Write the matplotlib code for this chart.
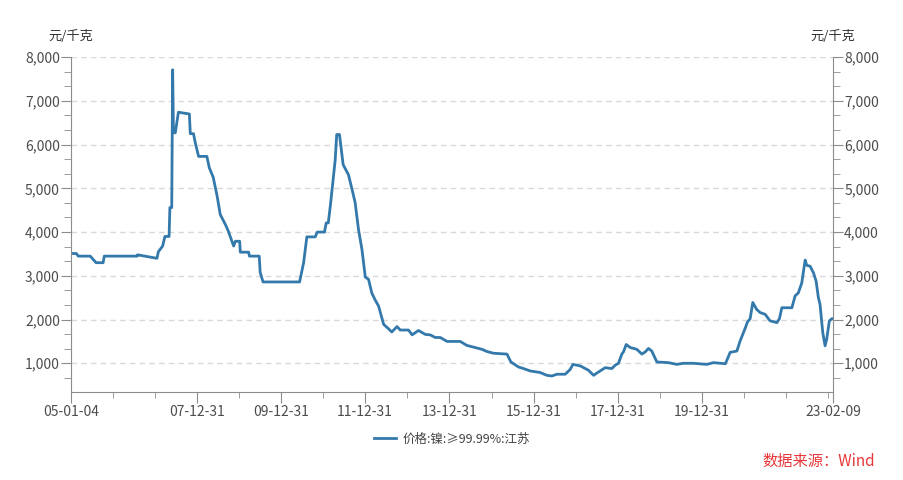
import pandas as pd
import matplotlib
matplotlib.use("Agg")
import matplotlib.pyplot as plt

plt.rcParams['font.family'] = ['Noto Sans CJK SC', 'DejaVu Sans']

# 价格:镍:≥99.99%:江苏, 元/千克
dates = [
    "2005-01-04", "2005-02-20", "2005-03-08", "2005-06-20", "2005-08-10", "2005-10-10",
    "2005-10-20", "2006-08-01", "2006-08-05", "2007-01-20", "2007-02-01", "2007-03-10",
    "2007-03-30", "2007-05-05", "2007-05-12", "2007-05-28", "2007-06-05", "2007-06-12",
    "2007-06-28", "2007-07-25", "2007-10-28", "2007-11-05", "2007-12-03", "2007-12-18",
    "2008-01-16", "2008-03-28", "2008-04-18", "2008-05-22", "2008-06-25", "2008-07-22",
    "2008-09-05", "2008-09-30", "2008-11-15", "2008-11-30", "2009-01-06", "2009-01-12",
    "2009-03-25", "2009-04-01", "2009-06-25", "2009-07-03", "2009-07-28", "2010-06-10",
    "2010-07-15", "2010-08-12", "2010-10-24", "2010-11-10", "2011-01-12", "2011-01-27",
    "2011-02-14", "2011-03-05", "2011-04-15", "2011-04-28", "2011-05-22", "2011-06-23",
    "2011-08-08", "2011-09-15", "2011-10-05", "2011-11-03", "2011-12-03", "2012-01-01",
    "2012-01-29", "2012-02-26", "2012-03-26", "2012-04-25", "2012-06-08", "2012-07-20",
    "2012-08-18", "2012-10-02", "2012-10-30", "2013-01-10", "2013-02-10", "2013-04-06",
    "2013-06-05", "2013-07-17", "2013-08-30", "2013-10-12", "2013-12-10", "2014-04-03",
    "2014-05-30", "2014-08-10", "2014-10-08", "2014-11-20", "2015-01-17", "2015-05-14",
    "2015-06-17", "2015-08-22", "2015-10-04", "2015-12-01", "2016-02-25", "2016-04-23",
    "2016-06-07", "2016-07-20", "2016-09-30", "2016-11-12", "2016-12-06", "2017-02-08",
    "2017-04-20", "2017-06-03", "2017-07-15", "2017-09-12", "2017-11-08", "2017-12-07",
    "2018-01-05", "2018-02-03", "2018-02-17", "2018-03-13", "2018-04-17", "2018-06-13",
    "2018-07-27", "2018-08-25", "2018-09-22", "2018-10-21", "2018-12-04", "2019-03-14",
    "2019-05-26", "2019-07-22", "2019-10-17", "2020-02-11", "2020-04-08", "2020-07-20",
    "2020-08-31", "2020-10-28", "2020-11-25", "2020-12-24", "2021-01-08", "2021-01-27",
    "2021-02-20", "2021-03-15", "2021-04-18", "2021-05-18", "2021-06-30", "2021-08-12",
    "2021-10-10", "2021-11-01", "2021-11-22", "2022-02-17", "2022-03-17", "2022-04-14",
    "2022-05-14", "2022-06-12", "2022-06-26", "2022-07-25", "2022-08-23", "2022-09-15",
    "2022-10-05", "2022-10-19", "2022-11-12", "2022-12-02", "2022-12-16", "2023-01-08",
    "2023-01-30", "2023-02-09",
]
prices = [
    3510, 3510, 3450, 3450, 3300, 3300,
    3450, 3450, 3480, 3400, 3550, 3680,
    3900, 3900, 4560, 4560, 7710, 6270,
    6270, 6740, 6700, 6250, 6250, 6045,
    5730, 5730, 5470, 5250, 4820, 4400,
    4170, 4020, 3680, 3790, 3790, 3540,
    3540, 3450, 3450, 3080, 2860, 2860,
    3300, 3890, 3890, 4000, 4000, 4210,
    4210, 4630, 5650, 6230, 6230, 5540,
    5310, 4900, 4670, 4060, 3600, 2970,
    2920, 2610, 2450, 2310, 1890, 1790,
    1715, 1840, 1760, 1760, 1650, 1750,
    1660, 1650, 1590, 1590, 1500, 1500,
    1410, 1360, 1320, 1270, 1230, 1210,
    1030, 915, 880, 825, 790, 725,
    710, 750, 750, 860, 975, 940,
    840, 725, 800, 900, 880, 955,
    1000, 1210, 1260, 1430, 1360, 1320,
    1210, 1260, 1340, 1280, 1030, 1015,
    975, 1000, 1000, 975, 1015, 990,
    1250, 1280, 1510, 1700, 1800, 1940,
    2020, 2390, 2230, 2160, 2120, 1970,
    1930, 2020, 2270, 2270, 2540, 2610,
    2840, 3360, 3240, 3220, 3070, 2880,
    2500, 2350, 1700, 1400, 1550, 1970,
    2020, 2020,
]

tick_dates = ["2005-01-04"] + [f"{y}-12-31" for y in range(2005, 2023)] + ["2023-02-09"]
label_dates = ["2005-01-04", "2007-12-31", "2009-12-31", "2011-12-31", "2013-12-31",
               "2015-12-31", "2017-12-31", "2019-12-31", "2023-02-09"]
y_major = [1000, 2000, 3000, 4000, 5000, 6000, 7000, 8000]

series_name = "价格:镍:≥99.99%:江苏"
unit = "元/千克"
source = "数据来源：Wind"

df = pd.DataFrame({"date": pd.to_datetime(dates), "price": prices})

fig = plt.figure(figsize=(9.04, 4.8), dpi=100)
ax = fig.add_axes([0.0785, 0.183, 0.843, 0.698])

ax.plot(df["date"], df["price"], color="#3479ab", lw=2, label=series_name)

ax.set_xlim(pd.Timestamp("2005-01-04"), pd.Timestamp("2023-02-09"))
ax.set_ylim(340, 8000)

# y ticks: major every 1000, minor at thirds
ax.set_yticks(y_major)
minor_y = [v - k * 1000 / 3 for v in y_major for k in (1, 2)]
ax.set_yticks([m for m in minor_y if m > 340], minor=True)
ax.set_yticklabels([f"{v:,}" for v in y_major])

# x ticks at each year end, labelled every second year
tick_ts = pd.to_datetime(tick_dates)
major_x = [t for t in tick_ts if t.strftime("%Y-%m-%d") in label_dates]
minor_x = [t for t in tick_ts if t.strftime("%Y-%m-%d") not in label_dates]
ax.set_xticks(major_x)
ax.set_xticks(minor_x, minor=True)
ax.set_xticklabels([t.strftime("%y-%m-%d") for t in major_x])

for s in ["left", "bottom", "right"]:
    ax.spines[s].set_color("#8c8c8c")
ax.spines["top"].set_visible(False)

ax.tick_params(axis="y", which="major", length=7, color="#8c8c8c", labelsize=10,
               labelcolor="#4d4d4d", left=True, right=True, labelleft=True, labelright=True, pad=1)
ax.tick_params(axis="y", which="minor", length=5, color="#8c8c8c", left=True, right=True)
ax.tick_params(axis="x", which="major", length=8, color="#8c8c8c", labelsize=10,
               labelcolor="#4d4d4d", pad=1)
ax.tick_params(axis="x", which="minor", length=4, color="#8c8c8c")

ax.yaxis.grid(True, which="major", color="#d9d9d9", linestyle=(0, (4, 3)), lw=1)
ax.set_axisbelow(True)

fig.text(0.0785, 0.925, unit, ha="center", va="center", fontsize=9.5, color="#333333")
fig.text(0.9215, 0.925, unit, ha="center", va="center", fontsize=9.5, color="#333333")

leg = ax.legend(loc="center", bbox_to_anchor=(0.5, -0.14), frameon=False, fontsize=9,
                handlelength=1.8, handletextpad=0.5)
for t in leg.get_texts():
    t.set_color("#444444")

fig.text(0.968, 0.04, source, ha="right", va="center", fontsize=11, color="#e8373a")

fig.savefig("out.png", dpi=100)
